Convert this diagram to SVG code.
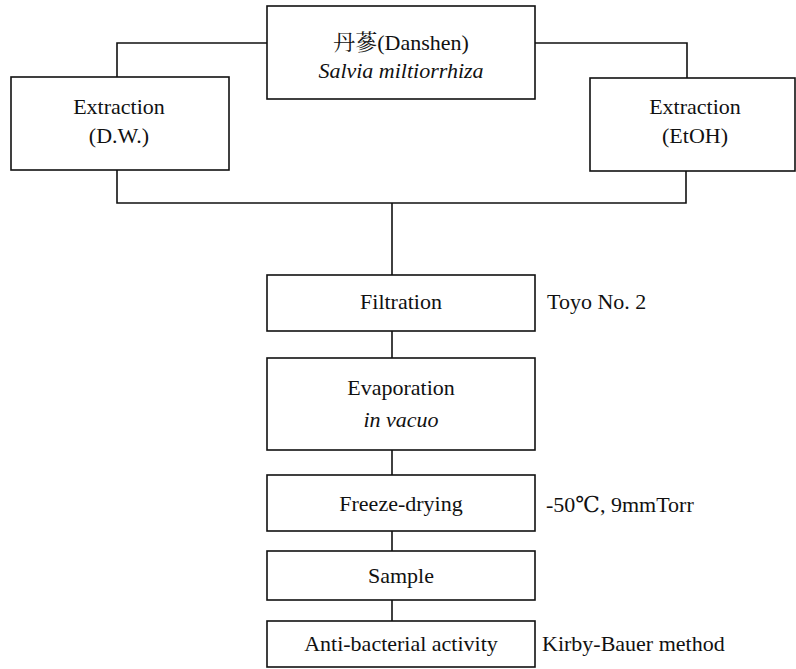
<svg xmlns="http://www.w3.org/2000/svg" width="796" height="669" viewBox="0 0 796 669">
<style>
.box{fill:#fff;stroke:#111;stroke-width:1.6}
.ln{fill:none;stroke:#111;stroke-width:1.6}
.t{font-size:22px;fill:#111}
.c{text-anchor:middle}
.i{font-style:italic}
</style>
<rect width="796" height="669" fill="#fff"/>
<g id="connectors">
<polyline class="ln" points="267,43 117,43 117,77"/>
<polyline class="ln" points="535,43 687,43 687,78"/>
<polyline class="ln" points="117,170 117,203 686,203 686,171"/>
<line class="ln" x1="392" y1="203" x2="392" y2="275"/>
<line class="ln" x1="392" y1="331" x2="392" y2="358"/>
<line class="ln" x1="392" y1="450" x2="392" y2="475"/>
<line class="ln" x1="392" y1="531" x2="392" y2="551"/>
<line class="ln" x1="392" y1="600" x2="392" y2="621"/>
</g>
<g font-family="Liberation Serif, DejaVu Serif, Noto Serif CJK SC, Noto Sans CJK SC, serif">
<g id="danshen">
<rect class="box" x="267" y="6" width="268" height="93"/>
<text class="t c" x="401" y="50">丹蔘(Danshen)</text>
<text class="t c i" x="401" y="78">Salvia miltiorrhiza</text>
</g>
<g id="extraction-dw">
<rect class="box" x="11" y="77" width="218" height="93"/>
<text class="t c" x="119" y="114">Extraction</text>
<text class="t c" x="119" y="143">(D.W.)</text>
</g>
<g id="extraction-etoh">
<rect class="box" x="590" y="78" width="205" height="93"/>
<text class="t c" x="695" y="114">Extraction</text>
<text class="t c" x="695" y="143">(EtOH)</text>
</g>
<g id="filtration">
<rect class="box" x="267" y="275" width="268" height="56"/>
<text class="t c" x="401" y="309">Filtration</text>
<text class="t" x="547" y="309">Toyo No. 2</text>
</g>
<g id="evaporation">
<rect class="box" x="267" y="358" width="268" height="92"/>
<text class="t c" x="401" y="395">Evaporation</text>
<text class="t c i" x="401" y="427">in vacuo</text>
</g>
<g id="freeze-drying">
<rect class="box" x="267" y="475" width="268" height="56"/>
<text class="t c" x="401" y="511">Freeze-drying</text>
<text class="t" x="546" y="512">-50℃, 9mmTorr</text>
</g>
<g id="sample">
<rect class="box" x="267" y="551" width="268" height="49"/>
<text class="t c" x="401" y="583">Sample</text>
</g>
<g id="anti-bacterial">
<rect class="box" x="267" y="621" width="268" height="46"/>
<text class="t c" x="401" y="651">Anti-bacterial activity</text>
<text class="t" x="542" y="651">Kirby-Bauer method</text>
</g>
</g>
</svg>
